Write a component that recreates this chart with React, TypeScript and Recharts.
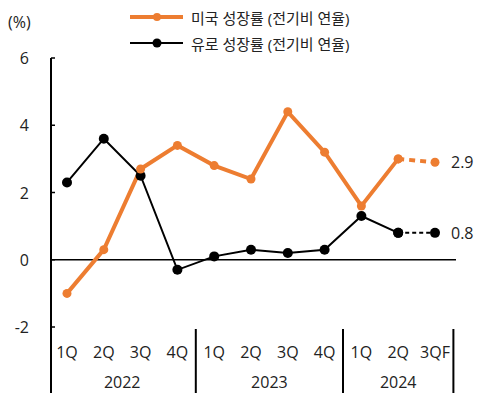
import { LineChart, Line, XAxis, YAxis, ReferenceLine, LabelList } from 'recharts'

const quarters = ['1Q', '2Q', '3Q', '4Q', '1Q', '2Q', '3Q', '4Q', '1Q', '2Q', '3QF']
const years = ['2022', '2022', '2022', '2022', '2023', '2023', '2023', '2023', '2024', '2024', '2024']
const usGrowth = [-1.0, 0.3, 2.7, 3.4, 2.8, 2.4, 4.4, 3.2, 1.6, 3.0, 2.9]
const euroGrowth = [2.3, 3.6, 2.5, -0.3, 0.1, 0.3, 0.2, 0.3, 1.3, 0.8, 0.8]
const yTicks = [-2, 0, 2, 4, 6]
const lastActual = 9 // 3QF is a forecast: dashed segment from here

const US_NAME = '미국 성장률 (전기비 연율)'
const EU_NAME = '유로 성장률 (전기비 연율)'
const ORANGE = '#ED7D31'
const FONT = '"Open Sans", "Noto Sans CJK KR", sans-serif'
const TXT = '#222'
const FS = 16

const data = quarters.map((q, i) => ({
  idx: i,
  q,
  us: i <= lastActual ? usGrowth[i] : null,
  usF: i >= lastActual ? usGrowth[i] : null,
  eu: i <= lastActual ? euroGrowth[i] : null,
  euF: i >= lastActual ? euroGrowth[i] : null,
}))

// layout
const W = 477
const H = 391
const PLOT_LEFT = 43
const PLOT_RIGHT = 448
const PLOT_BOTTOM = 319
const PAD_L = 16
const PAD_R = 21
const STEP = (PLOT_RIGHT - PLOT_LEFT - PAD_L - PAD_R) / (quarters.length - 1)

function XTick({ x, payload }: any) {
  const i = payload.value as number
  const yr = years[i]
  const first = years.indexOf(yr)
  const last = years.lastIndexOf(yr)
  return (
    <g>
      <text x={x} y={344} textAnchor="middle" dominantBaseline="central" fontSize={FS} fill={TXT} fontFamily={FONT}>
        {quarters[i]}
      </text>
      {i === first && (
        <text x={x + ((last - first) / 2) * STEP} y={374} textAnchor="middle" dominantBaseline="central" fontSize={FS} fill={TXT} fontFamily={FONT}>
          {yr}
        </text>
      )}
      {i === last && (
        <line x1={x + STEP / 2} x2={x + STEP / 2} y1={321} y2={385} stroke="#000" strokeWidth={2} />
      )}
      {i === 0 && <line x1={PLOT_LEFT} x2={PLOT_LEFT} y1={PLOT_BOTTOM - 1} y2={385} stroke="#000" strokeWidth={2} />}
    </g>
  )
}

function YTick({ y, payload }: any) {
  return (
    <g>
      <line x1={PLOT_LEFT} x2={PLOT_LEFT + 4} y1={y} y2={y} stroke="#000" strokeWidth={1.5} />
      <text x={PLOT_LEFT - 22} y={y} textAnchor="end" dominantBaseline="central" fontSize={FS} fill={TXT} fontFamily={FONT}>
        {payload.value}
      </text>
    </g>
  )
}

const endLabel = (props: any) => {
  const { x, y, value, index } = props
  if (index !== quarters.length - 1 || value == null) return null
  return (
    <text x={x + 16} y={y} dominantBaseline="central" fontSize={FS} fill={TXT} fontFamily={FONT}>
      {Number(value).toFixed(1)}
    </text>
  )
}

function LegendRow({ top, color, width, r, name }: any) {
  return (
    <div style={{ position: 'absolute', left: 122, top: top - 10, height: 20, display: 'flex', alignItems: 'center' }}>
      <svg width={56} height={20}>
        <line x1={0} x2={53} y1={10} y2={10} stroke={color} strokeWidth={width} />
        <circle cx={27} cy={10} r={r} fill={color} />
      </svg>
      <span style={{ marginLeft: 5, fontSize: 15, color: TXT, fontFamily: FONT, whiteSpace: 'nowrap' }}>{name}</span>
    </div>
  )
}

export default function App() {
  return (
    <div style={{ position: 'relative', width: W, height: H }}>
      <LineChart width={W} height={H} data={data} margin={{ top: 50, right: W - PLOT_RIGHT, left: PLOT_LEFT - 30, bottom: H - PLOT_BOTTOM - 60 }}>
        <XAxis
          dataKey="idx"
          height={60}
          padding={{ left: PAD_L, right: PAD_R }}
          axisLine={false}
          tickLine={false}
          interval={0}
          tick={<XTick />}
        />
        <YAxis
          width={30}
          domain={[-2, 6]}
          ticks={yTicks}
          interval={0}
          axisLine={{ stroke: '#000', strokeWidth: 2 }}
          tickLine={false}
          tick={<YTick />}
        />
        <ReferenceLine y={0} stroke="#000" strokeWidth={1.5} />
        <Line dataKey="eu" stroke="#000" strokeWidth={2} dot={{ r: 5, fill: '#000', stroke: 'none' }} isAnimationActive={false} />
        <Line dataKey="euF" stroke="#000" strokeWidth={2} strokeDasharray="4 3" dot={{ r: 5, fill: '#000', stroke: 'none' }} isAnimationActive={false}>
          <LabelList dataKey="euF" content={endLabel} />
        </Line>
        <Line dataKey="us" stroke={ORANGE} strokeWidth={4} dot={{ r: 4.5, fill: ORANGE, stroke: 'none' }} isAnimationActive={false} />
        <Line dataKey="usF" stroke={ORANGE} strokeWidth={4} strokeDasharray="6 5" dot={{ r: 4.5, fill: ORANGE, stroke: 'none' }} isAnimationActive={false}>
          <LabelList dataKey="usF" content={endLabel} />
        </Line>
      </LineChart>
      <div style={{ position: 'absolute', left: 0, top: 3, fontSize: FS, color: TXT, fontFamily: FONT }}>(%)</div>
      <LegendRow top={9} color={ORANGE} width={4} r={4} name={US_NAME} />
      <LegendRow top={35} color="#000" width={2} r={4.5} name={EU_NAME} />
    </div>
  )
}
